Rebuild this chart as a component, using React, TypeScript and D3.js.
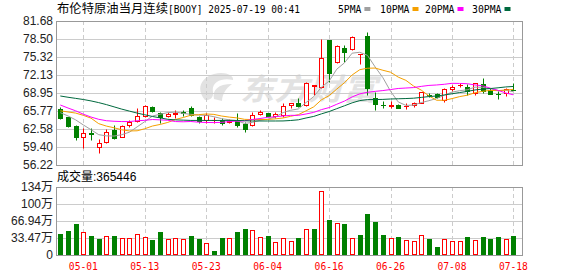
import React, { useEffect } from 'react';
import * as d3 from 'd3';

const dates = [
  '04-28','04-29','04-30','05-01','05-02','05-05','05-06','05-07','05-08','05-09',
  '05-12','05-13','05-14','05-15','05-16','05-19','05-20','05-21','05-22','05-23',
  '05-26','05-27','05-28','05-29','05-30','06-02','06-03','06-04','06-05','06-06',
  '06-09','06-10','06-11','06-12','06-13','06-16','06-17','06-18','06-19','06-20',
  '06-23','06-24','06-25','06-26','06-27','06-30','07-01','07-02','07-03','07-04',
  '07-07','07-08','07-09','07-10','07-11','07-14','07-15','07-16','07-17','07-18',
];
const opens = [
  66.07,64.65,63.17,61.23,61.82,59.46,60.35,62.41,61.12,63.24,
  64.06,64.94,66.42,65.36,64.88,65.25,65.55,66.24,64.77,64.18,
  64.10,64.18,63.85,63.95,63.41,63.25,65.20,65.45,64.80,65.06,
  66.77,67.24,66.83,70.20,70.07,78.32,74.37,76.96,76.67,75.79,
  79.03,68.12,66.90,66.70,66.83,66.65,66.77,67.24,68.65,68.78,
  67.72,69.60,70.30,70.07,68.90,70.55,69.48,68.80,69.01,69.50,
];
const highs = [
  66.42,64.75,63.30,62.71,62.70,60.82,62.60,63.30,63.30,64.18,
  66.24,66.83,66.65,65.54,65.60,65.90,65.90,66.65,64.90,65.40,
  64.70,64.60,64.30,65.40,63.88,65.65,65.90,65.50,65.65,67.12,
  67.24,68.00,70.84,70.40,78.50,78.32,77.44,77.44,79.09,75.90,
  79.67,69.20,67.60,67.50,66.95,67.10,67.36,69.19,69.00,68.90,
  69.78,70.37,70.66,70.55,70.78,71.55,69.78,69.37,69.78,70.66,
];
const lows = [
  64.30,62.90,60.64,59.17,60.64,58.40,60.17,60.90,61.10,63.00,
  63.88,64.76,65.64,63.70,64.70,64.48,64.90,64.90,63.70,63.70,
  63.60,63.30,63.60,63.00,62.10,63.10,65.10,64.90,64.50,64.77,
  66.36,66.53,66.65,68.60,69.90,70.95,74.20,74.50,76.49,74.08,
  68.60,65.94,66.24,66.36,66.24,66.10,66.54,67.13,68.30,68.13,
  67.30,69.37,69.96,68.60,68.60,68.90,68.78,67.83,68.48,69.40,
];
const closes = [
  64.59,63.03,61.11,61.94,61.65,60.17,62.00,60.94,63.12,63.88,
  64.88,66.65,65.82,64.76,65.30,65.38,65.45,65.00,64.06,65.10,
  64.20,63.72,63.95,63.35,62.65,65.06,65.60,64.95,65.20,66.65,
  67.12,66.71,70.66,70.36,75.08,72.43,77.26,76.26,78.91,75.87,
  69.77,66.95,66.85,66.90,66.36,66.72,67.24,69.07,68.58,68.30,
  69.60,69.96,70.37,69.37,70.66,69.37,68.80,68.70,69.60,69.45,
];
// volume, in 万
const volumes = [
  41.3,47.8,61.0,44.6,37.4,31.5,38.0,37.4,34.1,33.5,
  40.7,34.8,29.5,45.3,31.5,32.9,31.5,37.4,31.5,23.0,
  7.9,33.5,32.9,45.3,50.6,48.6,34.8,37.4,25.0,32.9,
  27.6,33.5,50.6,50.6,125.4,68.9,63.0,61.0,32.9,39.4,
  80.7,65.6,39.4,32.9,34.8,29.5,27.6,38.7,31.5,15.7,
  31.5,28.2,28.2,35.4,30.2,35.4,31.5,35.4,31.5,36.54,
];
const ma5 = [
  65.47,64.9,64.2,63.3,62.46,61.58,61.37,61.34,61.58,62.02,
  62.96,63.89,64.87,65.20,65.48,65.58,65.34,65.18,65.04,65.0,
  64.76,64.42,64.21,64.06,63.57,63.75,64.12,64.32,64.69,65.49,
  65.90,66.13,67.27,68.30,69.99,71.05,73.16,74.28,75.99,76.15,
  75.61,73.55,71.67,69.27,67.37,66.76,66.81,67.26,67.59,67.98,
  68.56,69.10,69.36,69.52,69.99,69.95,69.71,69.38,69.43,69.18,
];
const ma10 = [
  65.8,65.6,65.4,65.0,64.5,63.53,63.1,62.8,62.45,62.24,
  62.27,62.63,63.11,63.39,63.75,64.27,64.62,65.02,65.12,65.24,
  65.17,64.88,64.69,64.55,64.29,64.25,64.27,64.26,64.38,64.53,
  64.83,65.12,65.80,66.50,67.74,68.48,69.64,70.77,72.14,73.07,
  73.33,73.36,72.97,72.63,71.76,71.19,70.18,69.46,68.43,67.67,
  67.66,67.96,68.31,68.56,68.99,69.25,69.41,69.37,69.47,69.59,
];
const ma20 = [
  66.83,66.3,65.8,65.2,64.7,64.3,64.05,63.95,63.9,63.9,
  64.04,64.12,64.26,64.2,64.13,63.9,63.86,63.91,63.79,63.74,
  63.72,63.76,63.90,63.97,64.02,64.26,64.44,64.64,64.75,64.89,
  65.00,65.00,65.24,65.52,66.01,66.37,66.96,67.52,68.26,68.80,
  69.08,69.24,69.38,69.56,69.75,69.83,69.91,70.12,70.29,70.37,
  70.49,70.66,70.64,70.59,70.37,70.22,69.80,69.42,68.95,68.63,
];
const ma30 = [
  68.42,68.2,68.0,67.8,67.55,67.25,66.9,66.5,66.1,65.75,
  65.4,65.1,64.8,64.55,64.3,64.2,64.15,64.1,64.1,64.1,
  64.1,64.1,64.1,64.1,64.05,64.0,64.0,64.0,64.0,64.01,
  64.09,64.21,64.53,64.81,65.26,65.67,66.18,66.69,67.21,67.61,
  67.78,67.79,67.82,67.89,67.93,67.97,68.03,68.17,68.32,68.42,
  68.60,68.81,69.03,69.23,69.49,69.64,69.74,69.87,70.02,70.11,
];
const priceTicks = ['81.68','78.50','75.32','72.13','68.95','65.77','62.58','59.40','56.22'];
const volTickValues = [0, 33.47, 66.94, 100.41, 133.88];
const volTickLabels = ['0', '33.47万', '66.94万', '100万', '134万'];
const xTickLabels = ['05-01','05-13','05-23','06-04','06-16','06-26','07-08','07-18'];
const titleName = '布伦特原油当月连续';
const titleCode = '[BOOY] 2025-07-19 00:41';
const legendNames = ['5PMA', '10PMA', '20PMA', '30PMA'];
const volumeLabel = '成交量';
const lastVolume = '365446';
const watermark = '东方财富';

const RED = '#ff0000';
const GREEN = '#008000';
const MA_COLORS = ['#a0a0a0', '#f5a000', '#ff00ff', '#00693e'];
const CJK = '"Noto Sans CJK SC", sans-serif';
const SANS = '"Liberation Sans", Arial, sans-serif';
const MONO = '"DejaVu Sans Mono", monospace';

export default function App() {
  useEffect(() => {
    document.body.style.margin = '0';
  }, []);
  const W = 578, H = 276;
  const left = 56, right = 522, top = 21, mainBottom = 165, volTop = 187, volBottom = 255;

  const x = d3.scalePoint<string>().domain(dates).range([60.3, 513.4]);
  const y = d3.scaleLinear().domain([56.22, 81.68]).range([mainBottom, top]);
  const yv = d3.scaleLinear().domain([0, 133.88]).range([volBottom, volTop]);
  const snap = (v: number) => Math.round(v) + 0.5;

  const mas = [ma5, ma10, ma20, ma30];
  const line = d3.line<number>().x((_, i) => x(dates[i]) as number).y((d) => y(d));

  const legendX = [338, 380, 425, 472];
  const legendW = legendNames.map((n) => n.length * 6.1);

  return (
    <svg width={W} height={H} style={{ position: 'absolute', left: 0, top: 0, background: '#fff' }}>
      <rect x={0} y={0} width={W} height={H} fill="#fff" />
      {/* title */}
      <text x={57} y={13} fontSize={12} fontFamily={CJK} fill="#000" textLength={111} lengthAdjust="spacingAndGlyphs">{titleName}</text>
      <text x={168} y={12.5} fontSize={11} fontFamily={MONO} fill="#000" textLength={132} lengthAdjust="spacingAndGlyphs">{titleCode}</text>
      {/* legend */}
      {legendNames.map((n, k) => (
        <g key={n}>
          <text x={legendX[k]} y={12.5} fontSize={11} fontFamily={MONO} fill="#000" textLength={legendW[k] - 1} lengthAdjust="spacingAndGlyphs">{n}</text>
          <rect x={legendX[k] + legendW[k] + 2} y={7} width={6} height={4} fill={MA_COLORS[k]} />
        </g>
      ))}

      {/* watermark */}
      <g opacity={0.75}>
        <path d="M205,100 C196,90 200,78 214,74 C226,71 234,76 233,80 C222,77 211,82 213,92 C214,97 210,101 205,100 Z" fill="#d9d9d9" />
        <path d="M214,99 C212,90 218,84 232,84 C226,88 222,95 222,101 Z" fill="#d9d9d9" />
        <text x={240} y={100} fontSize={30} fontWeight="bold" fontStyle="italic" fontFamily={CJK} fill="#d9d9d9" textLength={137} lengthAdjust="spacingAndGlyphs">{watermark}</text>
      </g>

      {/* main grid */}
      {priceTicks.map((t) => (
        <line key={t} x1={left} x2={right} y1={snap(y(+t))} y2={snap(y(+t))} stroke="#cccccc" />
      ))}
      {xTickLabels.map((t) => (
        <g key={t}>
          <line x1={snap(x(t) as number)} x2={snap(x(t) as number)} y1={top} y2={mainBottom} stroke="#cccccc" strokeDasharray="4,3" />
          <line x1={snap(x(t) as number)} x2={snap(x(t) as number)} y1={volTop} y2={volBottom} stroke="#cccccc" strokeDasharray="4,3" />
        </g>
      ))}
      {volTickValues.map((v) => (
        <line key={v} x1={left} x2={right} y1={snap(yv(v))} y2={snap(yv(v))} stroke="#cccccc" />
      ))}
      {/* panel borders */}
      <rect x={left + 0.5} y={snap(top)} width={right - left} height={Math.round(mainBottom) - Math.round(top)} fill="none" stroke="#999999" />
      <rect x={left + 0.5} y={snap(volTop)} width={right - left} height={Math.round(volBottom) - Math.round(volTop)} fill="none" stroke="#999999" />

      {/* y labels */}
      {priceTicks.map((t) => (
        <text key={t} x={53} y={y(+t)} dy="0.36em" textAnchor="end" fontSize={12} fontFamily={SANS} fill="#222">{t}</text>
      ))}
      {volTickLabels.map((t, k) => (
        <text key={t} x={53} y={yv(volTickValues[k])} dy="0.36em" textAnchor="end" fontSize={12} fontFamily={SANS} fill="#222">
          {t.replace('万', '')}
          {t.includes('万') ? <tspan fontFamily={CJK}>万</tspan> : null}
        </text>
      ))}

      {/* candles */}
      {dates.map((d, i) => {
        const cx = Math.round(x(d) as number);
        const o = opens[i], c = closes[i];
        const up = c >= o;
        const yHi = snap(y(highs[i])), yLo = snap(y(lows[i]));
        const yT = snap(y(Math.max(o, c))), yB = snap(y(Math.min(o, c)));
        const col = up ? RED : GREEN;
        if (yB - yT < 1) {
          return (
            <g key={d} stroke={col}>
              <line x1={cx + 0.5} x2={cx + 0.5} y1={yHi} y2={yLo} />
              <line x1={cx - 2} x2={cx + 3} y1={yT} y2={yT} />
            </g>
          );
        }
        if (up) {
          return (
            <g key={d} stroke={RED} fill="none">
              <line x1={cx + 0.5} x2={cx + 0.5} y1={yHi} y2={yT} />
              <line x1={cx + 0.5} x2={cx + 0.5} y1={yB} y2={yLo} />
              <rect x={cx - 1.5} y={yT} width={4} height={yB - yT} fill="#fff" />
            </g>
          );
        }
        return (
          <g key={d}>
            <line x1={cx + 0.5} x2={cx + 0.5} y1={yHi} y2={yLo} stroke={GREEN} />
            <rect x={cx - 2} y={yT - 0.5} width={5} height={yB - yT + 1} fill={GREEN} />
          </g>
        );
      })}

      {/* moving averages */}
      {mas.map((m, k) => (
        <path key={k} d={line(m) || ''} fill="none" stroke={MA_COLORS[k]} strokeWidth={1} />
      ))}

      {/* volume label */}
      <text x={57} y={181} fontSize={12} fill="#000">
        <tspan fontFamily={CJK}>{volumeLabel}</tspan>
        <tspan fontFamily={SANS}>{':' + lastVolume}</tspan>
      </text>

      {/* volume bars */}
      {dates.map((d, i) => {
        const cx = Math.round(x(d) as number);
        const up = i === 0 ? closes[i] >= opens[i] : closes[i] >= closes[i - 1];
        const yt = Math.round(yv(volumes[i]));
        if (up) {
          return <rect key={d} x={cx - 1.5} y={yt + 0.5} width={4} height={volBottom - yt - 1} fill="#fff" stroke={RED} />;
        }
        return <rect key={d} x={cx - 2} y={yt} width={5} height={volBottom - yt} fill={GREEN} />;
      })}

      {/* x labels */}
      {xTickLabels.map((t) => (
        <text key={t} x={x(t) as number} y={270} textAnchor="middle" fontSize={11} fontFamily={MONO} fill={RED} textLength={29} lengthAdjust="spacingAndGlyphs">{t}</text>
      ))}
    </svg>
  );
}
